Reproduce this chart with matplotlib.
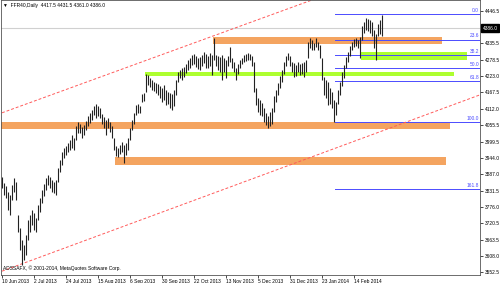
import numpy as np
import matplotlib
matplotlib.use("Agg")
import matplotlib.pyplot as plt
from matplotlib.patches import Rectangle

plt.rcParams['font.family'] = ['Liberation Sans', 'DejaVu Sans']

# daily bars, FFR40 (10 Jun 2013 .. early Mar 2014)
highs = [3878, 3858, 3848, 3827, 3817, 3851, 3875, 3861, 3748, 3704,
         3663, 3646, 3680, 3731, 3748, 3766, 3755, 3738, 3783, 3807,
         3834, 3854, 3875, 3885, 3878, 3868, 3861, 3868, 3909, 3936,
         3964, 3977, 3984, 3994, 4005, 4022, 4012, 4053, 4066, 4059,
         4049, 4056, 4070, 4087, 4097, 4107, 4121, 4128, 4121, 4114,
         4094, 4083, 4073, 4080, 4066, 4053, 4012, 3984, 3977, 3988,
         3998, 3988, 3995, 4012, 4046, 4073, 4097, 4124, 4128, 4121,
         4162, 4165, 4230, 4227, 4217, 4210, 4203, 4200, 4196, 4189,
         4182, 4193, 4176, 4169, 4165, 4162, 4176, 4210, 4237, 4244,
         4251, 4254, 4264, 4278, 4285, 4295, 4299, 4292, 4285, 4288,
         4295, 4305, 4299, 4292, 4302, 4295, 4353, 4295, 4292, 4288,
         4295, 4285, 4278, 4292, 4323, 4285, 4271, 4251, 4264, 4278,
         4285, 4295, 4299, 4302, 4299, 4292, 4271, 4182, 4148, 4141,
         4131, 4114, 4097, 4087, 4100, 4114, 4155, 4176, 4200, 4224,
         4244, 4271, 4292, 4302, 4292, 4271, 4268, 4261, 4271, 4264,
         4268, 4271, 4278, 4340, 4353, 4346, 4336, 4353, 4340, 4329,
         4285, 4220, 4210, 4203, 4182, 4169, 4141, 4135, 4176, 4203,
         4237, 4261, 4288, 4305, 4326, 4340, 4350, 4353, 4346, 4357,
         4394, 4408, 4422, 4418, 4415, 4408, 4381, 4367, 4401, 4415,
         4431.5]
lows = [3841, 3817, 3807, 3766, 3748, 3800, 3827, 3800, 3690, 3629,
        3578, 3595, 3612, 3663, 3690, 3714, 3697, 3690, 3731, 3759,
        3789, 3813, 3834, 3851, 3841, 3827, 3824, 3817, 3861, 3895,
        3919, 3943, 3953, 3964, 3971, 3977, 3971, 4005, 4029, 4029,
        4012, 4022, 4039, 4053, 4063, 4073, 4090, 4080, 4087, 4080,
        4059, 4046, 4022, 4046, 4032, 4012, 3971, 3950, 3947, 3957,
        3964, 3926, 3954, 3971, 4005, 4039, 4059, 4090, 4097, 4097,
        4135, 4138, 4169, 4193, 4186, 4176, 4172, 4165, 4159, 4148,
        4135, 4141, 4124, 4128, 4114, 4107, 4121, 4159, 4203, 4217,
        4210, 4220, 4234, 4244, 4251, 4261, 4264, 4254, 4247, 4244,
        4258, 4268, 4251, 4251, 4258, 4227, 4278, 4258, 4244, 4237,
        4210, 4237, 4217, 4258, 4271, 4251, 4237, 4210, 4230, 4251,
        4264, 4271, 4275, 4278, 4278, 4258, 4169, 4124, 4100, 4090,
        4087, 4066, 4056, 4046, 4053, 4059, 4100, 4135, 4159, 4182,
        4203, 4230, 4258, 4278, 4258, 4237, 4220, 4223, 4237, 4227,
        4230, 4220, 4237, 4285, 4319, 4312, 4312, 4323, 4312, 4285,
        4210, 4159, 4148, 4124, 4128, 4114, 4066, 4090, 4128, 4159,
        4189, 4217, 4251, 4271, 4292, 4312, 4323, 4326, 4319, 4285,
        4346, 4370, 4381, 4377, 4370, 4360, 4319, 4278, 4360, 4367,
        4361]

date_labels = ["10 Jun 2013", "2 Jul 2013", "24 Jul 2013", "15 Aug 2013",
               "6 Sep 2013", "30 Sep 2013", "22 Oct 2013", "13 Nov 2013",
               "5 Dec 2013", "31 Dec 2013", "23 Jan 2014", "14 Feb 2014"]
price_ticks = [4446.5, 4335.5, 4278.5, 4223.0, 4167.5, 4112.0, 4055.5,
               3999.5, 3944.0, 3887.0, 3831.5, 3776.0, 3720.5, 3663.5,
               3608.0, 3552.5]
last_price = 4386.0

# zones: (first bar, last bar, low, high)
orange_zones = [(105.5, 220, 4333, 4357), (-1, 224, 4041, 4067), (56.5, 222, 3920, 3948)]
green_zones = [(71.5, 226, 4223, 4238), (179.5, 232.5, 4278, 4306)]

# fibo retracement: swing low / high, drawn from bar 166.5
fib_low, fib_high = 4066, 4435
fib_levels = [0.0, 23.6, 38.2, 50.0, 61.8, 100.0, 161.8]

# channel lines (bar, price) end points
chan_upper = [(0, 4097.6), (239, 4692)]
chan_lower = [(0, 3556.5), (239, 4159)]

ymin, ymax = 3543.4, 4483.1
fs = 3.5

fig = plt.figure(figsize=(5, 2.83), dpi=100)
ax = fig.add_axes([1 / 500, 8 / 283, 479 / 500, 275 / 283])
ax.set_xlim(-0.5, 239)
ax.set_ylim(ymin, ymax)

for x0, x1, lo, hi in orange_zones:
    ax.add_patch(Rectangle((x0, lo), x1 - x0, hi - lo, color="#F4A460", lw=0, zorder=1))
for x0, x1, lo, hi in green_zones:
    ax.add_patch(Rectangle((x0, lo), x1 - x0, hi - lo, color="#ADFF2F", lw=0, zorder=1))

ax.axhline(last_price, color="#D0D0D0", lw=0.8, zorder=1.5)

for lv in fib_levels:
    p = fib_high - lv / 100 * (fib_high - fib_low)
    ax.plot([166.5, 239], [p, p], color="#4B4BFF", lw=0.7, zorder=2)
    ax.text(238.5, p + 4, "%.1f" % lv, color="#4B4BFF", fontsize=fs,
            ha="right", va="bottom", zorder=3)

for line in (chan_upper, chan_lower):
    xs, ys = zip(*line)
    ax.plot(xs, ys, color="#FF5A5A", lw=0.7, dashes=(3, 2), zorder=2)

idx = np.arange(len(highs))
ax.vlines(idx, lows, highs, color="#222222", lw=0.8, zorder=4)

ax.yaxis.tick_right()
ax.set_yticks(price_ticks)
ax.set_yticklabels(["%.1f" % p for p in price_ticks])
ax.set_xticks(np.arange(len(date_labels)) * 16)
ax.set_xticklabels(date_labels, ha="left")
ax.tick_params(axis="both", labelsize=fs, length=2, width=0.5, pad=1, colors="#000000")
ax.tick_params(axis="y", pad=1.5)
for s in ax.spines.values():
    s.set_linewidth(0.6)
    s.set_color("#555555")

ax.text(1.006, (last_price - ymin) / (ymax - ymin), "%.1f" % last_price,
        transform=ax.transAxes, fontsize=fs, color="white", va="center", ha="left",
        bbox=dict(boxstyle="square,pad=0.3", fc="black", ec="black"))

fig.text(3 / 500, 1 - 5 / 283, "\u25bc  FFR40,Daily  4417.5 4431.5 4361.0 4386.0",
         fontsize=fs, va="center", ha="left")
ax.text(0.004, 0.025, "ADSSAFX, \u00a9 2001-2014, MetaQuotes Software Corp.",
        transform=ax.transAxes, fontsize=fs, va="center", ha="left", zorder=5)

fig.savefig("out.png", dpi=100)
